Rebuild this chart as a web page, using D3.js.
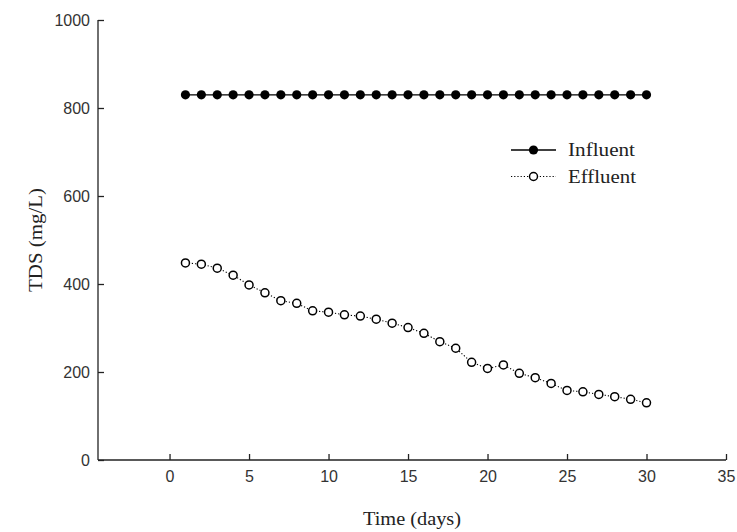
<!DOCTYPE html>
<html><head><meta charset="utf-8">
<script src="https://cdn.jsdelivr.net/npm/d3@7"></script>
<style>body{margin:0;background:#fff}svg{display:block}</style>
</head><body>
<script>
const days = d3.range(1, 31);
const influent = [830,830,830,830,830,830,830,830,830,830,830,830,830,830,830,830,830,830,830,830,830,830,830,830,830,830,830,830,830,830];
const effluent = [448,445,436,420,398,380,362,356,339,336,330,327,320,311,301,288,269,254,222,208,216,197,187,174,158,155,149,144,138,130];
const xTicks = [0,5,10,15,20,25,30,35];
const yTicks = [0,200,400,600,800,1000];
const seriesNames = ["Influent","Effluent"];

const W = 737, H = 532;
const svg = d3.select("body").append("svg").attr("width", W).attr("height", H);
const x = d3.scaleLinear().domain([-4.5, 35]).range([98, 726]);
const y = d3.scaleLinear().domain([0, 1000]).range([460, 20]);

const tickFont = "Liberation Sans, Arial, sans-serif";
const serif = "Liberation Serif, Times New Roman, serif";

// axes
const xAxis = svg.append("g").attr("transform", "translate(0,460)")
  .call(d3.axisBottom(x).tickValues(xTicks).tickFormat(d3.format("d")).tickSizeInner(-6).tickSizeOuter(0).tickPadding(11));
const yAxis = svg.append("g").attr("transform", "translate(98,0)")
  .call(d3.axisLeft(y).tickValues(yTicks).tickFormat(d3.format("d")).tickSizeInner(-6).tickSizeOuter(0).tickPadding(8));
[xAxis, yAxis].forEach(g => {
  g.select(".domain").attr("stroke", "#222").attr("stroke-width", 1.3);
  g.selectAll(".tick line").attr("stroke", "#222").attr("stroke-width", 1.3);
  g.selectAll(".tick text").attr("font-family", tickFont).attr("font-size", 16).attr("fill", "#333");
});
xAxis.select(".domain").attr("d", `M${x(-4.5)},0H${x(35)}`);
yAxis.select(".domain").attr("d", `M0,${y(0)}V${y(1000)}`);

// axis titles
svg.append("text").attr("x", 412).attr("y", 525).attr("text-anchor", "middle")
  .attr("font-family", serif).attr("font-size", 18).attr("fill", "#222")
  .attr("textLength", 98).attr("lengthAdjust", "spacingAndGlyphs").text("Time (days)");
svg.append("text").attr("transform", "translate(42,240) rotate(-90)").attr("text-anchor", "middle")
  .attr("font-family", serif).attr("font-size", 18).attr("fill", "#222")
  .attr("textLength", 104).attr("lengthAdjust", "spacingAndGlyphs").text("TDS (mg/L)");

// influent
const line = d3.line().x((d, i) => x(days[i])).y(d => y(d));
svg.append("path").datum(influent).attr("d", line).attr("fill", "none").attr("stroke", "#000").attr("stroke-width", 1.3);
svg.append("g").selectAll("circle").data(influent).join("circle")
  .attr("cx", (d, i) => x(days[i])).attr("cy", d => y(d)).attr("r", 4.6).attr("fill", "#000");

// effluent
svg.append("path").datum(effluent).attr("d", line).attr("fill", "none").attr("stroke", "#000")
  .attr("stroke-width", 1.1).attr("stroke-dasharray", "1.2,2");
svg.append("g").selectAll("circle").data(effluent).join("circle")
  .attr("cx", (d, i) => x(days[i])).attr("cy", d => y(d)).attr("r", 4).attr("fill", "#fff")
  .attr("stroke", "#000").attr("stroke-width", 1.5);

// legend
const leg = svg.append("g");
const ly = [150, 176.5];
const lw = [67, 68];
seriesNames.forEach((name, i) => {
  const g = leg.append("g").attr("transform", `translate(0,${ly[i]})`);
  g.append("line").attr("x1", 511).attr("x2", 556).attr("y1", 0).attr("y2", 0).attr("stroke", "#000")
    .attr("stroke-width", i === 0 ? 1.3 : 1.1).attr("stroke-dasharray", i === 0 ? null : "1.2,2");
  g.append("circle").attr("cx", 533.5).attr("cy", 0).attr("r", i === 0 ? 4.6 : 4)
    .attr("fill", i === 0 ? "#000" : "#fff").attr("stroke", "#000").attr("stroke-width", i === 0 ? 0 : 1.5);
  g.append("text").attr("x", 568).attr("y", 6).attr("font-family", serif).attr("font-size", 18)
    .attr("fill", "#222").attr("textLength", lw[i]).attr("lengthAdjust", "spacingAndGlyphs").text(name);
});
</script>
</body></html>
